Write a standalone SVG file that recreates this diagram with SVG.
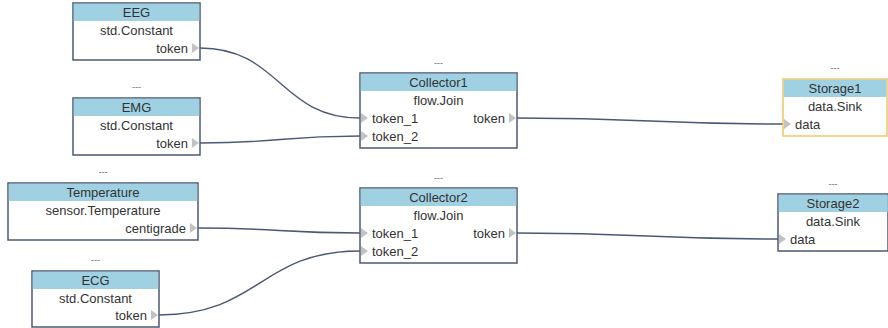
<svg xmlns="http://www.w3.org/2000/svg" width="888" height="328" viewBox="0 0 888 328">
<style>
.box{fill:#fff;stroke:#4b5875;stroke-width:1.5}
.sel{fill:#fff;stroke:#f0c468;stroke-width:1.5}
.hdr{fill:#9fd1e2}
.t{font-family:"Liberation Sans",Arial,sans-serif;font-size:13px;fill:#333}
.c{text-anchor:middle}
.r{text-anchor:end}
.d{font-family:"Liberation Sans",Arial,sans-serif;font-size:9px;fill:#666;text-anchor:middle}
.port{fill:#c2c2c2}
.conn{fill:none;stroke:#4b5875;stroke-width:1.4}
</style>
<defs>
<polygon id="pt" class="port" points="0,-5 7,0 0,5"/>
</defs>
<g id="connectors">
<path class="conn" d="M200,48 C280,48 280,118 360,118"/>
<path class="conn" d="M200,143 C280,143 280,136 360,136"/>
<path class="conn" d="M517,118 C650,118 650,124 783,124"/>
<path class="conn" d="M198,228 C279,228 279,233 360,233"/>
<path class="conn" d="M159,315 C260,315 260,251 360,251"/>
<path class="conn" d="M517,233 C647,233 647,239 778,239"/>
</g>
<g id="EEG">
<rect class="box" x="73" y="3" width="127" height="57"/>
<rect class="hdr" x="73.75" y="3.75" width="125.5" height="17.25"/>
<text class="t c" x="136.5" y="16.5">EEG</text>
<text class="t c" x="136.5" y="34.5">std.Constant</text>
<text class="t r" x="188" y="52.5">token</text>
<use href="#pt" x="192" y="48"/>
</g>
<g id="EMG">
<text class="d" x="136.5" y="90">---</text>
<rect class="box" x="73" y="98" width="127" height="57"/>
<rect class="hdr" x="73.75" y="98.75" width="125.5" height="17.25"/>
<text class="t c" x="136.5" y="111.5">EMG</text>
<text class="t c" x="136.5" y="129.5">std.Constant</text>
<text class="t r" x="188" y="147.5">token</text>
<use href="#pt" x="192" y="143"/>
</g>
<g id="Temperature">
<text class="d" x="103" y="175">---</text>
<rect class="box" x="8" y="183" width="190" height="57"/>
<rect class="hdr" x="8.75" y="183.75" width="188.5" height="17.25"/>
<text class="t c" x="103" y="196.5">Temperature</text>
<text class="t c" x="103" y="214.5">sensor.Temperature</text>
<text class="t r" x="186" y="232.5">centigrade</text>
<use href="#pt" x="190" y="228"/>
</g>
<g id="ECG">
<text class="d" x="95.5" y="263">---</text>
<rect class="box" x="32" y="271" width="127" height="56"/>
<rect class="hdr" x="32.75" y="271.75" width="125.5" height="17.25"/>
<text class="t c" x="95.5" y="284.5">ECG</text>
<text class="t c" x="95.5" y="302.5">std.Constant</text>
<text class="t r" x="147" y="319.5">token</text>
<use href="#pt" x="151" y="315"/>
</g>
<g id="Collector1">
<text class="d" x="438.5" y="66">---</text>
<rect class="box" x="360" y="73" width="157" height="75"/>
<rect class="hdr" x="360.75" y="73.75" width="155.5" height="17.25"/>
<text class="t c" x="438.5" y="86.5">Collector1</text>
<text class="t c" x="438.5" y="104.5">flow.Join</text>
<text class="t" x="372" y="122.5">token_1</text>
<text class="t" x="372" y="140.5">token_2</text>
<text class="t r" x="505" y="122.5">token</text>
<use href="#pt" x="361" y="118"/>
<use href="#pt" x="361" y="136"/>
<use href="#pt" x="509" y="118"/>
</g>
<g id="Collector2">
<text class="d" x="438.5" y="181">---</text>
<rect class="box" x="360" y="188" width="157" height="75"/>
<rect class="hdr" x="360.75" y="188.75" width="155.5" height="17.25"/>
<text class="t c" x="438.5" y="201.5">Collector2</text>
<text class="t c" x="438.5" y="219.5">flow.Join</text>
<text class="t" x="372" y="237.5">token_1</text>
<text class="t" x="372" y="255.5">token_2</text>
<text class="t r" x="505" y="237.5">token</text>
<use href="#pt" x="361" y="233"/>
<use href="#pt" x="361" y="251"/>
<use href="#pt" x="509" y="233"/>
</g>
<g id="Storage1">
<text class="d" x="835" y="71">---</text>
<rect class="sel" x="783" y="79" width="104" height="57"/>
<rect class="hdr" x="783.75" y="79.75" width="102.5" height="17.25"/>
<text class="t c" x="835" y="92.5">Storage1</text>
<text class="t c" x="835" y="110.5">data.Sink</text>
<text class="t" x="795" y="128.5">data</text>
<use href="#pt" x="784" y="124"/>
</g>
<g id="Storage2">
<text class="d" x="833" y="187">---</text>
<rect class="box" x="778" y="194" width="110" height="57"/>
<rect class="hdr" x="778.75" y="194.75" width="109" height="17.25"/>
<text class="t c" x="833" y="207.5">Storage2</text>
<text class="t c" x="833" y="225.5">data.Sink</text>
<text class="t" x="790" y="243.5">data</text>
<use href="#pt" x="779" y="239"/>
</g>
</svg>
